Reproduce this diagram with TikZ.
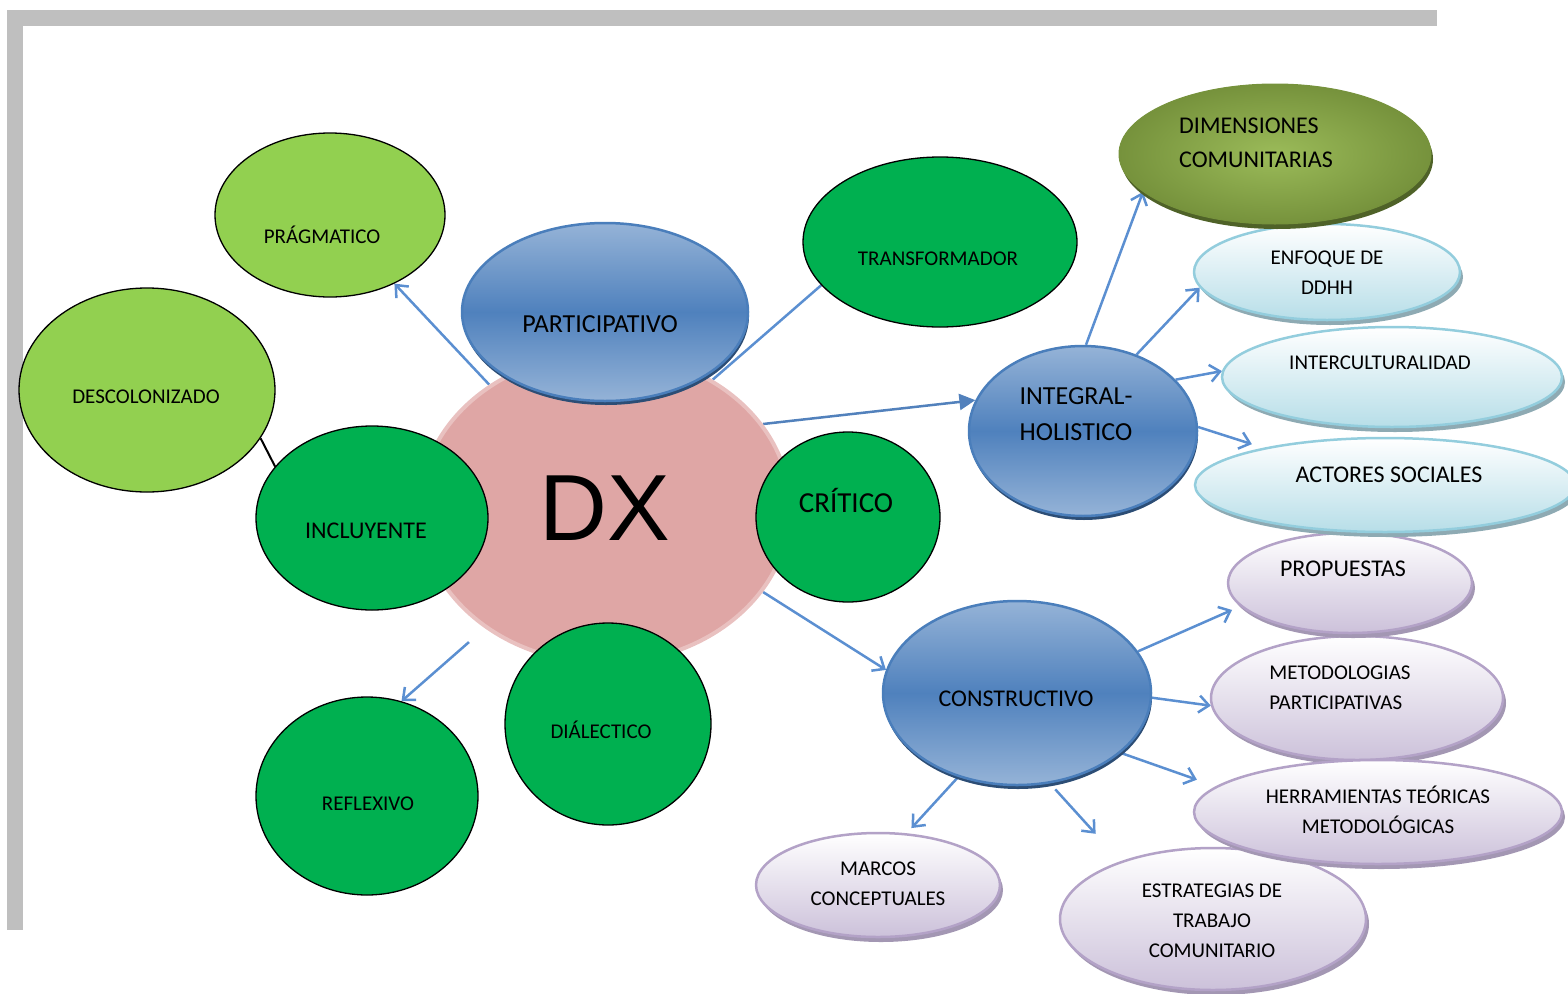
\documentclass[tikz,border=0pt]{standalone}
\usepackage{fontspec}
\setmainfont{Carlito}
\newfontfamily\dxfont{Liberation Sans}
\usepackage{tikz}
\usetikzlibrary{shapes,arrows,arrows.meta,positioning,calc,shadows,backgrounds}
\definecolor{framegray}{HTML}{BFBFBF}
\definecolor{limegreen}{HTML}{92D050}
\definecolor{grassgreen}{HTML}{00B050}
\definecolor{dxpink}{HTML}{DFA6A5}
\definecolor{bluemid}{HTML}{4F81BD}
\definecolor{bluelight}{HTML}{95B3D7}
\definecolor{blueedge}{HTML}{4A7EBB}
\definecolor{blueshadow}{HTML}{2C4D75}
\definecolor{olivedark}{HTML}{76923C}
\definecolor{olivelight}{HTML}{9BBB59}
\definecolor{oliveshadow}{HTML}{4F6228}
\definecolor{cyanlight}{HTML}{B7DEE8}
\definecolor{cyanedge}{HTML}{93CDDD}
\definecolor{cyanshadow}{HTML}{8EAAB3}
\definecolor{lavlight}{HTML}{CCC1DA}
\definecolor{lavedge}{HTML}{B3A2C7}
\definecolor{lavshadow}{HTML}{A397B3}
\definecolor{arrowblue}{HTML}{5B8FD1}

\tikzset{
  rad/.style 2 args={minimum width=#1*2pt, minimum height=#2*2pt},
  bubble/.style={ellipse, inner sep=0pt},
  lime/.style={bubble, draw=black, line width=1.3pt, fill=limegreen},
  grass/.style={bubble, draw=black, line width=1.3pt, fill=grassgreen},
  bluebub/.style={bubble, draw=blueedge, line width=2.5pt, top color=bluelight,
    bottom color=bluelight, middle color=bluemid,
    drop shadow={shadow xshift=1pt, shadow yshift=-4pt, fill=blueshadow, opacity=1}},
  olivebub/.style={bubble, draw=olivedark, line width=1pt, inner color=olivelight,
    outer color=olivedark,
    drop shadow={shadow xshift=2pt, shadow yshift=-5pt, fill=oliveshadow, opacity=1}},
  cyanbub/.style={bubble, draw=cyanedge, line width=2.5pt, top color=white,
    bottom color=cyanlight,
    drop shadow={shadow xshift=3pt, shadow yshift=-5pt, fill=cyanshadow, opacity=1}},
  lavbub/.style={bubble, draw=lavedge, line width=2.5pt, top color=white,
    bottom color=lavlight,
    drop shadow={shadow xshift=3pt, shadow yshift=-5pt, fill=lavshadow, opacity=1}},
  txt/.style={font=\fontsize{21}{30}\selectfont, align=center},
  txtbig/.style={font=\fontsize{24}{34}\selectfont, align=center},
  link/.style={draw=arrowblue, line width=2.5pt, -{Straight Barb[length=10pt,width=17pt]}},
  linksolid/.style={draw=arrowblue!90!black, line width=2.5pt, -{Triangle[length=16pt,width=16pt]}}
}

\begin{document}
\begin{tikzpicture}[x=1pt,y=-1pt]
  \useasboundingbox (0,0) rectangle (1568,993);

  % frame
  \fill[framegray] (7,10) rectangle (1437,26);
  \fill[framegray] (7,10) rectangle (23,930);

  % centre
  \node[bubble, fill=dxpink, draw=dxpink!70!white, line width=4pt, rad={185}{155},
    font=\dxfont\fontsize{94}{94}\selectfont] (dx) at (605,508) {DX};

  % left branch
  \node[lime, rad={115}{82}, label={[txt,shift={(-8,20)}]center:PRÁGMATICO}] (prag) at (330,215) {};
  \node[lime, rad={128}{102}, label={[txt,shift={(-1,7)}]center:DESCOLONIZADO}] (desc) at (147,390) {};
  \node[bluebub, rad={143}{89}, label={[font=\fontsize{26}{34}\selectfont,shift={(-5,12)}]center:PARTICIPATIVO}] (part) at (605,312) {};
  \node[grass, rad={137}{85}, label={[txt,shift={(-2,17)}]center:TRANSFORMADOR}] (trans) at (940,242) {};
  \node[grass, rad={116}{92}, label={[txtbig,shift={(-6,13)}]center:INCLUYENTE}] (incl) at (372,518) {};
  \node[grass, rad={92}{85}, label={[font=\fontsize{29}{34}\selectfont,shift={(-2,-17)}]center:CRÍTICO}] (crit) at (848,517) {};
  \node[grass, rad={103}{101}, label={[txt,shift={(-7,6)}]center:DIÁLECTICO}] (dial) at (608,724) {};
  \node[grass, rad={111}{99}, label={[txt,shift={(1,8)}]center:REFLEXIVO}] (refl) at (367,796) {};

  % constructivo branch
  \node[lavbub, rad={122}{52}, label={[txt,shift={(0,-1)}]center:{MARCOS\\CONCEPTUALES}}] (marc) at (878,885) {};
  \node[lavbub, rad={153}{71}, label={[txt,shift={(-1,2)}]center:{ESTRATEGIAS DE\\TRABAJO\\COMUNITARIO}}] (estr) at (1213,919) {};
  \node[lavbub, rad={146}{62}, label={[txt,align=left,shift={(-17,-10)}]center:{METODOLOGIAS\\PARTICIPATIVAS}}] (met) at (1357,698) {};
  \node[lavbub, rad={184}{52}, label={[txt,shift={(0,-2)}]center:{HERRAMIENTAS TEÓRICAS\\METODOLÓGICAS}}] (herr) at (1378,812) {};
  \node[lavbub, rad={122}{50}, label={[txtbig,shift={(-7,-14)}]center:PROPUESTAS}] (prop) at (1350,583) {};
  \node[bluebub, rad={134}{92}, label={[txtbig,shift={(-1,6)}]center:CONSTRUCTIVO}] (cons) at (1017,693) {};

  % integral branch
  \node[bluebub, rad={114}{85}, label={[font=\fontsize{26}{36}\selectfont,align=left,shift={(-7,-17)}]center:{INTEGRAL-\\HOLISTICO}}] (integ) at (1083,431) {};
  \node[cyanbub, rad={190}{47}, label={[txtbig,shift={(4,-10)}]center:ACTORES SOCIALES}] (act) at (1385,485) {};
  \node[cyanbub, rad={170}{50}, label={[txt,shift={(-12,-14)}]center:INTERCULTURALIDAD}] (inter) at (1392,377) {};
  \node[cyanbub, rad={133}{48}, label={[txt,shift={(0,1)}]center:{ENFOQUE DE\\DDHH}}] (enf) at (1327,272) {};
  \node[olivebub, rad={156}{70}, label={[txtbig,align=left,shift={(-19,-11)}]center:{DIMENSIONES\\COMUNITARIAS}}] (dim) at (1275,154) {};

  % connectors
  \begin{scope}[on background layer]
    \draw[link] (dx) -- (prag);
    \draw[link,-] (dx.50) -- (trans.200);
    \draw[linksolid] (dx.28) -- (integ.164);
    \draw[black, line width=2pt] (incl.152) -- (desc.-23);
    \draw[link, shorten <=21pt] (dx.225) -- (refl.70);
    \draw[link] (dx.-28) -- (cons.170);
    \draw[link] (integ.88) -- (dim.196);
    \draw[link] (integ.55) -- (enf.187);
    \draw[link] (integ.29) -- (inter.178);
    \draw[link, shorten >=12pt] (integ.2) -- (act.163);
    \draw[link, shorten >=9pt] (cons.19) -- (prop.192);
    \draw[link] (cons.-2) -- (met.183);
    \draw[link, shorten >=20pt] (cons.-30) -- (herr.171);
    \draw[link, shorten >=7pt] (cons.-125) -- (marc.61);
    \draw[link, shorten <=8pt, shorten >=37pt] (cons.-70) -- (estr.148);
  \end{scope}
\end{tikzpicture}
\end{document}
